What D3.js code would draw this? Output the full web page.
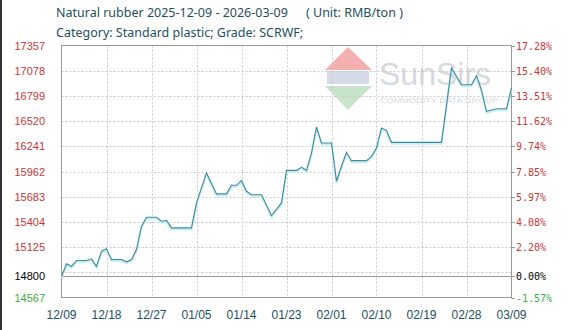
<!DOCTYPE html>
<html><head><meta charset="utf-8">
<script src="https://cdn.jsdelivr.net/npm/d3@7"></script>
<style>body{margin:0;background:#fff}svg{display:block}</style>
</head><body>
<script>
const titleText = "Natural rubber 2025-12-09 - 2026-03-09";
const unitText = "( Unit: RMB/ton )";
const subtitleText = "Category: Standard plastic; Grade: SCRWF;";
const dates = ["2025-12-09","2025-12-10","2025-12-11","2025-12-12","2025-12-14","2025-12-15","2025-12-16","2025-12-17","2025-12-18","2025-12-19","2025-12-21","2025-12-22","2025-12-23","2025-12-24","2025-12-25","2025-12-26","2025-12-28","2025-12-29","2025-12-30","2025-12-31","2026-01-04","2026-01-05","2026-01-07","2026-01-09","2026-01-11","2026-01-12","2026-01-13","2026-01-14","2026-01-15","2026-01-16","2026-01-18","2026-01-20","2026-01-22","2026-01-23","2026-01-25","2026-01-26","2026-01-27","2026-01-28","2026-01-29","2026-01-30","2026-02-01","2026-02-02","2026-02-03","2026-02-04","2026-02-05","2026-02-08","2026-02-09","2026-02-10","2026-02-11","2026-02-12","2026-02-13","2026-02-23","2026-02-25","2026-02-27","2026-03-01","2026-03-02","2026-03-03","2026-03-04","2026-03-06","2026-03-08","2026-03-09"];
const prices = [14800,14940,14913,14976,14976,14995,14913,15079,15106,14987,14987,14962,14987,15098,15356,15455,15455,15411,15420,15338,15338,15614,15946,15714,15714,15809,15809,15863,15743,15705,15705,15474,15614,15975,15975,16008,15975,16167,16455,16278,16278,15854,16020,16175,16082,16082,16130,16223,16444,16418,16285,16285,17108,16923,16923,17023,16860,16628,16656,16656,16887];
const leftTicks = [17357,17078,16799,16520,16241,15962,15683,15404,15125,14846,14567];
const leftLabels = ["17357","17078","16799","16520","16241","15962","15683","15404","15125","","14567"];
const rightLabels = ["17.28%","15.40%","13.51%","11.62%","9.74%","7.85%","5.97%","4.08%","2.20%","","-1.57%"];
const baseValue = 14800;
const baseLabelLeft = "14800", baseLabelRight = "0.00%";
const xTickDates = ["2025-12-09","2025-12-18","2025-12-27","2026-01-05","2026-01-14","2026-01-23","2026-02-01","2026-02-10","2026-02-19","2026-02-28","2026-03-09"];

const W=577,H=330;
const parse=d3.timeParse("%Y-%m-%d");
const data=dates.map((d,i)=>({date:parse(d),v:prices[i]}));
const x=d3.scaleTime().domain([parse("2025-12-09"),parse("2026-03-09")]).range([61.5,511.5]);
const y=d3.scaleLinear().domain([14567,17357]).range([297.5,45.5]);
const svg=d3.select("body").append("svg").attr("width",W).attr("height",H);
const teal="#1e4f5c", red="#c83737", green="#3faa3f";

// left dark edge
svg.append("rect").attr("x",0).attr("y",0).attr("width",2).attr("height",H).attr("fill","#333");

// titles
const tf="12.5px 'Noto Sans', sans-serif";
svg.append("text").attr("x",56).attr("y",17).attr("fill",teal).style("font",tf).text(titleText);
svg.append("text").attr("x",306).attr("y",17).attr("fill",teal).style("font",tf).text(unitText);
svg.append("text").attr("x",56).attr("y",37).attr("fill",teal).style("font",tf).text(subtitleText);

// watermark
const wm=svg.append("g");
wm.append("path").attr("d","M325,70 L348,47 L372,70 Z").attr("fill","#f4b0b0");
wm.append("rect").attr("x",327).attr("y",71).attr("width",42).attr("height",13).attr("fill","#d4dae8");
wm.append("path").attr("d","M325,86 L372,86 L348,110 Z").attr("fill","#c8e4c8");
wm.append("text").attr("x",379).attr("y",85).attr("fill","#d6d9dd").style("font","32px 'Liberation Sans', sans-serif").text("SunSirs");
wm.append("text").attr("x",380).attr("y",103).attr("fill","#d6d9dd").style("font","7px 'Liberation Sans', sans-serif").attr("textLength",118).attr("lengthAdjust","spacingAndGlyphs").text("COMMODITY DATA GROUP");

// grid
const g=svg.append("g");
leftTicks.slice(1,-1).forEach(t=>{
  g.append("line").attr("x1",61.5).attr("x2",511.5).attr("y1",Math.round(y(t))+0.5).attr("y2",Math.round(y(t))+0.5)
   .attr("stroke","#c8c8c8").attr("stroke-dasharray","2,2");
});
xTickDates.slice(1,-1).forEach(d=>{
  const xx=Math.round(x(parse(d)))+0.5;
  g.append("line").attr("x1",xx).attr("x2",xx).attr("y1",45.5).attr("y2",297.5).attr("stroke","#c8c8c8").attr("stroke-dasharray","2,2");
});
// base line
g.append("line").attr("x1",61.5).attr("x2",511.5).attr("y1",Math.round(y(baseValue))+0.5).attr("y2",Math.round(y(baseValue))+0.5).attr("stroke","#999");
// border
svg.append("rect").attr("x",61.5).attr("y",45.5).attr("width",450).attr("height",252).attr("fill","none").attr("stroke","#999");

// left labels
const lf="11px 'Liberation Sans', sans-serif";
leftTicks.forEach((t,i)=>{
  if(!leftLabels[i]) return;
  svg.append("text").attr("x",45).attr("y",y(t)+4).attr("text-anchor","end").attr("fill",i===leftTicks.length-1?green:red).style("font",lf).text(leftLabels[i]);
});
svg.append("text").attr("x",45).attr("y",y(baseValue)+4).attr("text-anchor","end").attr("fill","#000").style("font",lf).text(baseLabelLeft);
// right labels
const rf="10px 'DejaVu Sans Mono', monospace";
leftTicks.forEach((t,i)=>{
  if(!rightLabels[i]) return;
  svg.append("line").attr("x1",511.5).attr("x2",515).attr("y1",Math.round(y(t))+0.5).attr("y2",Math.round(y(t))+0.5).attr("stroke","#999");
  svg.append("text").attr("x",516).attr("y",y(t)+4).attr("fill",i===leftTicks.length-1?green:red).style("font",rf).text(rightLabels[i]);
});
svg.append("line").attr("x1",511.5).attr("x2",515).attr("y1",Math.round(y(baseValue))+0.5).attr("y2",Math.round(y(baseValue))+0.5).attr("stroke","#999");
svg.append("text").attr("x",516).attr("y",y(baseValue)+4).attr("fill","#000").style("font",rf).text(baseLabelRight);

// x labels
xTickDates.forEach(d=>{
  svg.append("text").attr("x",x(parse(d))).attr("y",319).attr("text-anchor","middle").attr("fill",teal)
   .style("font","12px 'Liberation Sans', sans-serif").text(d3.timeFormat("%m/%d")(parse(d)));
});

// line
const line=d3.line().x(d=>x(d.date)).y(d=>y(d.v));
svg.append("path").datum(data).attr("d",line).attr("fill","none").attr("stroke","#c6ecf4").attr("stroke-width",2).attr("transform","translate(0,1.5)");
svg.append("path").datum(data).attr("d",line).attr("fill","none").attr("stroke","#3d8b9d").attr("stroke-width",1.1);
</script>
</body></html>
